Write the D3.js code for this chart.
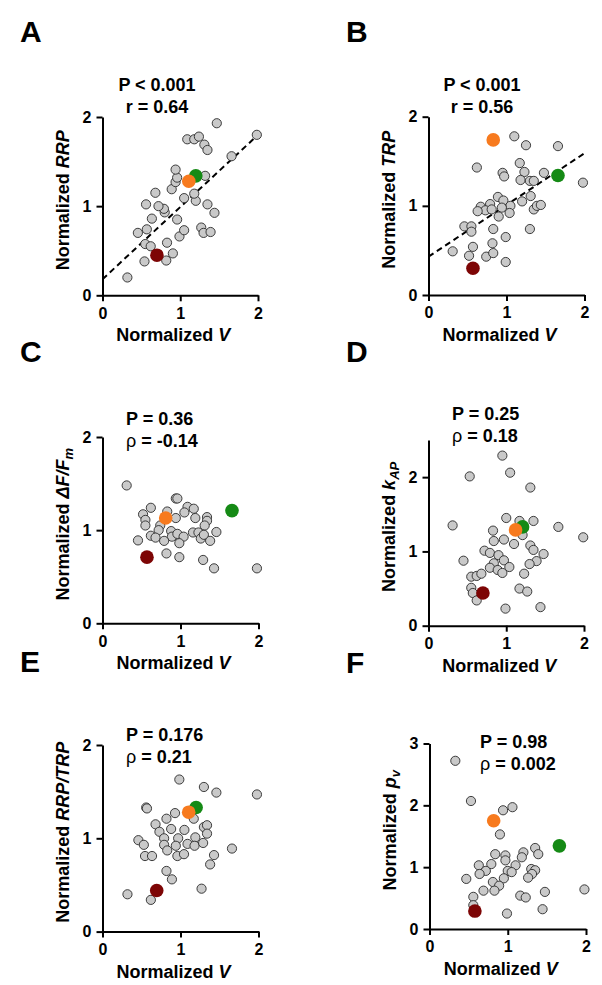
<!DOCTYPE html>
<html>
<head>
<meta charset="utf-8">
<script src="https://cdn.jsdelivr.net/npm/d3@7"></script>
<style>
  body { margin: 0; background: #fff; }
  svg text { font-family: "Liberation Sans", Arial, sans-serif; font-weight: bold; fill: #000; }
</style>
</head>
<body>
<div id="chart"></div>
<script>
// Gray points: [normalized V, normalized quantity]
const rrpPoints = [[0.32,0.20],[0.54,0.38],[0.82,0.39],[0.905,0.47],[0.55,0.575],[0.62,0.55],[0.83,0.59],[0.455,0.70],[0.57,0.74],[0.99,0.66],[1.05,0.73],[1.27,0.76],[1.30,0.70],[1.39,0.71],[0.635,0.86],[0.96,0.85],[0.80,0.93],[0.79,0.97],[0.72,1.00],[0.56,1.02],[0.68,1.15],[1.35,1.02],[1.44,0.925],[1.05,1.09],[1.20,1.06],[1.18,1.14],[0.89,1.19],[0.94,1.27],[0.96,1.32],[0.94,1.41],[1.32,1.34],[1.09,1.75],[1.18,1.75],[1.24,1.78],[1.31,1.69],[1.35,1.63],[1.47,1.93],[1.66,1.56],[1.985,1.80]];
const trpPoints = [[1.10,1.78],[1.25,1.68],[1.66,1.67],[0.62,1.43],[1.17,1.48],[1.23,1.38],[1.48,1.37],[0.95,1.37],[0.97,1.33],[1.18,1.29],[1.30,1.28],[1.35,1.28],[1.98,1.26],[0.89,1.10],[0.96,1.06],[1.20,1.05],[1.31,1.11],[1.05,1.00],[0.79,1.02],[0.67,0.99],[0.73,0.95],[0.63,0.94],[0.81,0.96],[0.94,0.98],[1.04,0.92],[0.90,0.88],[1.35,0.96],[1.39,1.00],[1.44,1.01],[0.46,0.77],[0.55,0.77],[0.55,0.71],[0.83,0.74],[1.30,0.74],[0.99,0.65],[0.57,0.54],[0.82,0.58],[0.31,0.49],[0.52,0.44],[0.74,0.43],[0.83,0.47],[0.99,0.37]];
const dffPoints = [[0.31,1.48],[0.94,1.34],[0.96,1.34],[0.62,1.24],[0.52,1.17],[0.83,1.20],[1.09,1.25],[1.17,1.23],[1.05,1.19],[0.94,1.13],[1.19,1.13],[1.34,1.14],[0.55,1.11],[0.55,1.05],[1.34,1.10],[1.31,1.05],[0.74,1.05],[0.72,1.00],[0.88,0.99],[0.62,0.94],[0.68,0.92],[0.89,0.93],[0.96,0.96],[1.04,0.93],[1.16,0.975],[1.23,0.975],[1.26,0.91],[1.30,0.95],[1.38,0.885],[1.46,0.98],[0.455,0.89],[0.79,0.885],[0.985,0.86],[0.82,0.75],[0.985,0.71],[1.29,0.68],[1.43,0.59],[1.98,0.59]];
const kapPoints = [[0.95,2.29],[0.53,2.01],[1.05,2.06],[1.31,1.86],[0.31,1.35],[1.00,1.45],[1.17,1.41],[1.35,1.41],[1.67,1.33],[1.99,1.19],[0.83,1.28],[0.84,1.14],[0.97,1.16],[1.10,1.10],[1.21,1.22],[1.31,1.08],[1.35,1.02],[0.72,1.01],[0.79,0.98],[0.90,0.95],[0.97,0.88],[0.84,0.84],[1.04,0.79],[0.79,0.78],[0.89,0.75],[0.95,0.71],[0.45,0.875],[1.48,0.965],[1.39,0.87],[1.30,0.83],[1.23,0.70],[0.55,0.66],[0.62,0.67],[0.68,0.70],[0.55,0.51],[0.57,0.44],[0.62,0.34],[1.17,0.50],[1.27,0.46],[0.99,0.23],[1.44,0.25]];
const ratioPoints = [[0.985,1.63],[1.30,1.55],[1.46,1.49],[1.98,1.47],[0.56,1.33],[0.57,1.32],[0.93,1.27],[0.82,1.21],[1.17,1.21],[0.68,1.15],[0.73,1.07],[0.88,1.10],[1.05,1.09],[1.30,1.12],[1.34,1.14],[1.34,1.05],[0.79,1.00],[0.97,1.00],[1.19,1.01],[0.46,0.98],[0.53,0.93],[0.79,0.93],[0.94,0.92],[1.09,0.94],[1.18,0.92],[1.29,0.95],[0.83,0.87],[1.66,0.89],[0.545,0.81],[0.635,0.81],[0.96,0.81],[1.045,0.83],[1.43,0.82],[1.38,0.72],[0.82,0.65],[0.89,0.56],[0.32,0.40],[0.62,0.34],[1.27,0.46]];
const pvPoints = [[0.33,2.72],[0.53,2.07],[0.94,1.92],[1.06,1.97],[0.90,1.53],[1.35,1.31],[1.20,1.24],[1.39,1.21],[0.84,1.21],[0.97,1.19],[1.18,1.16],[0.97,1.11],[0.63,1.03],[0.79,1.05],[1.10,1.03],[0.72,0.94],[0.64,0.89],[1.00,0.94],[1.05,0.92],[1.30,0.97],[1.35,0.95],[1.31,0.89],[1.26,0.83],[0.47,0.81],[0.81,0.76],[0.95,0.82],[0.89,0.70],[0.83,0.62],[0.69,0.62],[0.56,0.52],[1.16,0.54],[1.23,0.51],[1.475,0.60],[1.98,0.64],[1.445,0.32],[0.99,0.25],[0.56,0.385]];

// Highlighted cells: [dark red, green, orange]
const rrpHighlight = [[0.70,0.45],[1.20,1.34],[1.11,1.28]];
const trpHighlight = [[0.57,0.30],[1.66,1.34],[0.83,1.74]];
const dffHighlight = [[0.57,0.71],[1.66,1.21],[0.81,1.13]];
const kapHighlight = [[0.70,0.44],[1.21,1.33],[1.12,1.29]];
const ratioHighlight = [[0.695,0.44],[1.20,1.33],[1.105,1.28]];
const pvHighlight = [[0.58,0.29],[1.66,1.345],[0.82,1.75]];

// Linear fits: [intercept, slope]
const rrpFit = [0.18, 0.81];
const trpFit = [0.43, 0.58];

// Stats text lines
const rrpStats = ["P < 0.001", "r = 0.64"];
const trpStats = ["P < 0.001", "r = 0.56"];
const dffStats = ["P = 0.36", "\u03c1 = -0.14"];
const kapStats = ["P = 0.25", "\u03c1 = 0.18"];
const ratioStats = ["P = 0.176", "\u03c1 = 0.21"];
const pvStats = ["P = 0.98", "\u03c1 = 0.002"];

const xTicks = [0, 1, 2];
const hiColors = ["#7d0505", "#158a15", "#f77a1e"];

const svg = d3.select("#chart").append("svg")
    .attr("width", 602)
    .attr("height", 985)
    .style("background", "#fff");

const panels = [
  {letter: "A", lx: 20, ly: 42, pts: rrpPoints, hi: rrpHighlight, fit: rrpFit, stats: rrpStats,
   sx: 157, sy: 91, anchor: "middle", yMax: 2, yTicks: [0, 1, 2],
   left: 102.5, right: 258, top: 117, bottom: 295.3,
   ylab: [["Normalized ", ""], ["RRP", "i"]]},
  {letter: "B", lx: 346, ly: 42, pts: trpPoints, hi: trpHighlight, fit: trpFit, stats: trpStats,
   sx: 482, sy: 91, anchor: "middle", yMax: 2, yTicks: [0, 1, 2],
   left: 428.5, right: 584.5, top: 116.7, bottom: 295,
   ylab: [["Normalized ", ""], ["TRP", "i"]]},
  {letter: "C", lx: 20, ly: 362, pts: dffPoints, hi: dffHighlight, fit: null, stats: dffStats,
   sx: 126, sy: 425, anchor: "start", yMax: 2, yTicks: [0, 1, 2],
   left: 102.5, right: 258.5, top: 437, bottom: 623.3,
   ylab: [["Normalized ", ""], ["\u0394F/F", "i"], ["m", "sub"]]},
  {letter: "D", lx: 346, ly: 362, pts: kapPoints, hi: kapHighlight, fit: null, stats: kapStats,
   sx: 452, sy: 420, anchor: "start", yMax: 2.5, yTicks: [0, 1, 2],
   left: 428.5, right: 584, top: 440, bottom: 625.7,
   ylab: [["Normalized ", ""], ["k", "i"], ["AP", "sub"]]},
  {letter: "E", lx: 20, ly: 672, pts: ratioPoints, hi: ratioHighlight, fit: null, stats: ratioStats,
   sx: 126, sy: 741, anchor: "start", yMax: 2, yTicks: [0, 1, 2],
   left: 102.5, right: 258.5, top: 745, bottom: 931.6,
   ylab: [["Normalized ", ""], ["RRP/TRP", "i"]]},
  {letter: "F", lx: 346, ly: 673, pts: pvPoints, hi: pvHighlight, fit: null, stats: pvStats,
   sx: 480, sy: 748, anchor: "start", yMax: 3, yTicks: [0, 1, 2, 3],
   left: 429.5, right: 586, top: 743.5, bottom: 929,
   ylab: [["Normalized ", ""], ["p", "i"], ["v", "sub"]]}
];

panels.forEach(p => {
  const x = d3.scaleLinear().domain([0, 2]).range([p.left, p.right]);
  const y = d3.scaleLinear().domain([0, p.yMax]).range([p.bottom, p.top]);
  const g = svg.append("g");

  // Panel letter
  g.append("text")
      .attr("x", p.lx)
      .attr("y", p.ly)
      .style("font-size", "30px")
      .text(p.letter);

  // Axes
  const xAxis = g.append("g")
      .attr("transform", `translate(0,${p.bottom})`)
      .call(d3.axisBottom(x).tickValues(xTicks).tickFormat(d3.format("d")).tickSize(6).tickSizeOuter(0).tickPadding(3));
  const yAxis = g.append("g")
      .attr("transform", `translate(${p.left},0)`)
      .call(d3.axisLeft(y).tickValues(p.yTicks).tickFormat(d3.format("d")).tickSize(6).tickSizeOuter(0).tickPadding(5));
  [xAxis, yAxis].forEach(a => {
    a.selectAll("path, line").attr("stroke", "#000").attr("stroke-width", 2);
    a.selectAll("text").style("font-size", "16px").style("font-family", '"Liberation Sans", Arial, sans-serif').style("font-weight", "bold").attr("fill", "#000");
  });
  xAxis.selectAll("text").attr("dy", "0.9em");

  // X axis title
  const xt = g.append("text")
      .attr("x", (p.left + p.right) / 2 - 7)
      .attr("y", p.bottom + 46)
      .attr("text-anchor", "middle")
      .style("font-size", "18px");
  xt.append("tspan").text("Normalized ");
  xt.append("tspan").style("font-style", "italic").text("V");

  // Y axis title
  const yt = g.append("text")
      .attr("transform", `translate(${p.left - 34},${(p.top + p.bottom) / 2 - 6}) rotate(-90)`)
      .attr("text-anchor", "middle")
      .style("font-size", "18px");
  p.ylab.forEach(([t, s]) => {
    const ts = yt.append("tspan").text(t);
    if (s === "i") ts.style("font-style", "italic");
    if (s === "sub") ts.style("font-style", "italic").style("font-size", "13px").attr("dy", "4");
  });

  // Stats
  p.stats.forEach((line, i) => {
    const t = g.append("text")
        .attr("x", p.sx)
        .attr("y", p.sy + i * 22)
        .attr("text-anchor", p.anchor)
        .style("font-size", "18px");
    if (line.startsWith("\u03c1")) {
      t.append("tspan").style("font-weight", "normal").text("\u03c1");
      t.append("tspan").text(line.slice(1));
    } else {
      t.text(line);
    }
  });

  // Fit line (under the points)
  if (p.fit) {
    g.append("line")
        .attr("x1", x(0))
        .attr("y1", y(p.fit[0]))
        .attr("x2", x(2))
        .attr("y2", y(p.fit[0] + 2 * p.fit[1]))
        .attr("stroke", "#000")
        .attr("stroke-width", 2)
        .attr("stroke-dasharray", "6,4");
  }

  // Gray points
  g.selectAll("circle.pt")
    .data(p.pts)
    .join("circle")
      .attr("class", "pt")
      .attr("cx", d => x(d[0]))
      .attr("cy", d => y(d[1]))
      .attr("r", 4.6)
      .attr("fill", "#c9c9c9")
      .attr("stroke", "#2a2a2a")
      .attr("stroke-width", 0.9);

  // Highlighted points
  g.selectAll("circle.hi")
    .data(p.hi)
    .join("circle")
      .attr("class", "hi")
      .attr("cx", d => x(d[0]))
      .attr("cy", d => y(d[1]))
      .attr("r", 6.8)
      .attr("fill", (d, i) => hiColors[i]);
});
</script>
</body>
</html>
